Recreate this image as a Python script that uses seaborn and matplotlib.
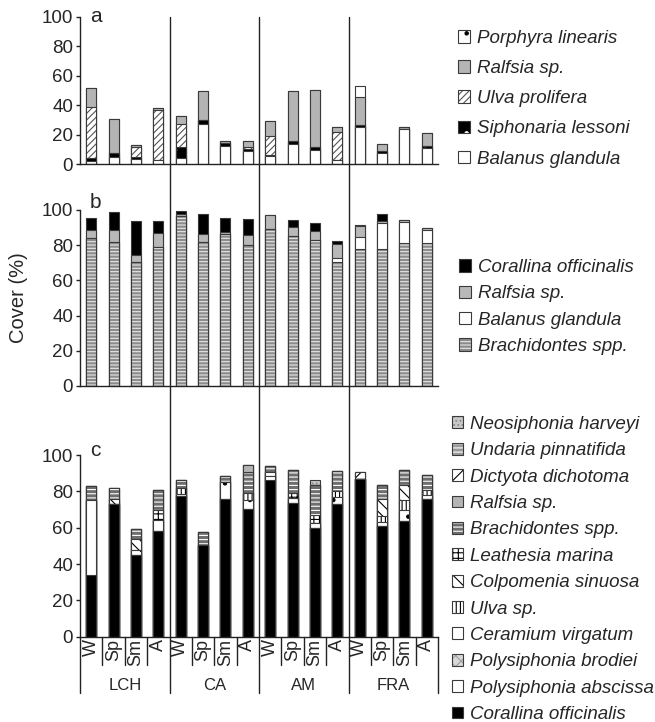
import numpy as np
import pandas as pd
import seaborn as sns
import matplotlib.pyplot as plt
from matplotlib.patches import Patch
from matplotlib.lines import Line2D
from matplotlib.transforms import blended_transform_factory

sites = ["LCH", "CA", "AM", "FRA"]
seasons = ["W", "Sp", "Sm", "A"]
bar_ids = [site + " " + season for site in sites for season in seasons]

# panel a, stacked bottom -> top
a_balanus = [2, 5, 3.5, 3, 4, 27, 12.5, 9, 5.5, 13.5, 9.5, 3, 25.5, 7.5, 24, 11]
a_siphonaria = [2, 2.5, 1.5, 0, 8, 3, 2, 1.5, 0.5, 2, 2, 0, 1, 1.5, 0, 1.5]
a_ulva = [34.5, 0, 7, 34, 15.5, 0, 0, 1.5, 13.5, 0, 0, 19, 0, 0, 0, 0]
a_ralfsia = [13.5, 23, 1, 1, 5, 19.5, 1, 3.5, 9.5, 34, 39, 3, 19, 5, 1.5, 8.5]
a_porphyra = [0, 0, 0, 0, 0, 0, 0, 0, 0, 0, 0, 0, 7.5, 0, 0, 0]

# panel b
b_brachidontes = [84, 82, 70.5, 79, 96.5, 82, 86.5, 80, 89, 85.5, 83, 70.5, 78, 78, 81, 81]
b_balanus = [0, 0, 0, 0, 0, 0, 0, 0, 0, 0, 0, 2.5, 6.5, 14.5, 12, 7.5]
b_ralfsia = [4.5, 6.5, 4, 8, 1, 4.5, 1, 6, 8, 5, 5, 7.5, 6.5, 1.5, 1.5, 1.5]
b_corallina = [7, 10.5, 19, 7, 2, 11.5, 8, 9, 0, 4, 4.5, 2, 0.5, 4, 0, 0]

# panel c
c_corallina = [34, 73, 45, 58, 77.5, 50.5, 76, 70.5, 86.5, 73.5, 60, 73, 87, 61, 63.5, 76]
c_pabscissa = [41, 0, 0, 0, 0, 0, 0, 0, 2, 0, 0, 0, 0, 0, 0, 0]
c_pbrodiei = [0, 0, 0, 0, 0, 0, 0, 0, 0, 0, 0, 0, 0, 0, 0, 0]
c_ceramium = [0, 0, 2.5, 6, 1, 0, 9, 4.5, 2, 3, 2.5, 4, 0, 2, 6.5, 2]
c_ulva = [0, 0, 0, 0, 3.5, 0, 0, 4, 0, 0, 0, 3, 0, 3.5, 5, 3]
c_colpomenia = [0, 3, 6.5, 0, 0, 0, 0, 0, 0, 0, 0, 0, 0, 9.5, 8.5, 0]
c_leathesia = [0, 0, 0, 6, 0, 0, 0, 0, 0, 2.5, 4.5, 0, 0, 0, 0, 0]
c_brachidontes = [8, 6, 5, 11, 4, 7, 3.5, 11.5, 3.5, 12.5, 16.5, 11, 0, 7.5, 8, 8]
c_ralfsia = [0, 0, 0, 0, 0, 0, 0, 4, 0, 0, 0, 0, 0, 0, 0, 0]
c_dictyota = [0, 0, 0, 0, 0, 0, 0, 0, 0, 0, 0, 0, 3.5, 0, 0, 0]
c_undaria = [0, 0, 0, 0, 0, 0, 0, 0, 0, 0, 0, 0, 0, 0, 0, 0]
c_neosiphonia = [0, 0, 0, 0, 0, 0, 0, 0, 0, 0, 2.5, 0, 0, 0, 0, 0]

OUTLINE = "#3a3a3a"
W, H = 655, 722

sns.set_theme(style="ticks")
plt.rcParams["font.family"] = ["Liberation Sans", "DejaVu Sans"]
plt.rcParams["hatch.linewidth"] = 0.8

# name, values, face, hatch, hatch colour
layers_a = [
    ("Balanus glandula", a_balanus, "white", None, "white"),
    ("Siphonaria lessoni", a_siphonaria, "black", ".", "white"),
    ("Ulva prolifera", a_ulva, "white", "/////", "#555555"),
    ("Ralfsia sp.", a_ralfsia, "#b4b4b4", None, "#b4b4b4"),
    ("Porphyra linearis", a_porphyra, "white", ".", "black"),
]
layers_b = [
    ("Brachidontes spp.", b_brachidontes, "#8c8c8c", "-----", "#e6e6e6"),
    ("Balanus glandula", b_balanus, "white", None, "white"),
    ("Ralfsia sp.", b_ralfsia, "#b8b8b8", None, "#b8b8b8"),
    ("Corallina officinalis", b_corallina, "black", None, "black"),
]
layers_c = [
    ("Corallina officinalis", c_corallina, "black", None, "black"),
    ("Polysiphonia abscissa", c_pabscissa, "white", None, "white"),
    ("Polysiphonia brodiei", c_pbrodiei, "#d8d8d8", "xxx", "#a0a0a0"),
    ("Ceramium virgatum", c_ceramium, "white", ".", "black"),
    ("Ulva sp.", c_ulva, "white", "||||", "black"),
    ("Colpomenia sinuosa", c_colpomenia, "white", "\\\\\\", "black"),
    ("Leathesia marina", c_leathesia, "white", "+++", "black"),
    ("Brachidontes spp.", c_brachidontes, "#6e6e6e", "----", "white"),
    ("Ralfsia sp.", c_ralfsia, "#b4b4b4", None, "#b4b4b4"),
    ("Dictyota dichotoma", c_dictyota, "white", "//", "black"),
    ("Undaria pinnatifida", c_undaria, "#9a9a9a", "----", "white"),
    ("Neosiphonia harveyi", c_neosiphonia, "#c8c8c8", "....", "#888888"),
]

fig = plt.figure(figsize=(W / 100, H / 100), dpi=100)


def px_axes(y0, y100):
    return fig.add_axes([80 / W, 1 - y0 / H, 358 / W, (y0 - y100) / H])


def draw_stack(ax, layers):
    # cumulative tops, drawn from the top layer down so each lower layer covers the one above
    tops = np.cumsum([np.asarray(v, dtype=float) for _, v, _, _, _ in layers], axis=0)
    for k in range(len(layers) - 1, -1, -1):
        name, values, face, hatch, hatch_color = layers[k]
        df = pd.DataFrame({"bar": bar_ids, "cover": tops[k]})
        sns.barplot(data=df, x="bar", y="cover", order=bar_ids, ax=ax,
                    color=face, saturation=1, width=0.45, errorbar=None,
                    hatch=hatch, edgecolor=hatch_color, linewidth=0)
        sns.barplot(data=df, x="bar", y="cover", order=bar_ids, ax=ax,
                    color="black", saturation=1, fill=False, width=0.45,
                    errorbar=None, edgecolor=OUTLINE, linewidth=0.8)
    ax.set_xlim(-0.5, 15.5)
    ax.set_ylim(0, 100)
    ax.set_yticks(range(0, 101, 20))
    ax.set_xticks([])
    ax.set_xlabel("")
    ax.set_ylabel("")
    sns.despine(ax=ax)
    for side in ["left", "bottom"]:
        ax.spines[side].set_color("#222222")
        ax.spines[side].set_linewidth(1)
    ax.tick_params(axis="y", length=3, width=1, color="#222222", labelsize=13.5, pad=2)


def add_legend(layers, x_px, top_px, spacing, size):
    handles = []
    labels = []
    for name, values, face, hatch, hatch_color in reversed(layers):
        swatch = Patch(facecolor=face, hatch=hatch, edgecolor=hatch_color, linewidth=0)
        frame = Patch(facecolor="none", edgecolor=OUTLINE, linewidth=0.8)
        handles.append((swatch, frame))
        labels.append(name)
    fig.legend(handles, labels, loc="upper left",
               bbox_to_anchor=(x_px / W, 1 - top_px / H), bbox_transform=fig.transFigure,
               frameon=False, prop={"style": "italic", "size": 13.5},
               labelspacing=spacing, handlelength=size, handleheight=size,
               handletextpad=0.35, borderpad=0, borderaxespad=0)


ax_a = px_axes(164.3, 16.7)
ax_b = px_axes(386, 210)
ax_c = px_axes(636.7, 455)

draw_stack(ax_a, layers_a)
draw_stack(ax_b, layers_b)
draw_stack(ax_c, layers_c)

add_legend(layers_a, 458, 30, 0.7, 0.64)
add_legend(layers_b, 459, 259, 0.5, 0.64)
add_legend(layers_c, 452, 416, 0.5, 0.6)

ax_b.set_ylabel("Cover (%)", fontsize=14.5)
ax_b.yaxis.set_label_coords(-52 / 358, 0.5)

for ax, letter, y_px in [(ax_a, "a", 16), (ax_b, "b", 203), (ax_c, "c", 451)]:
    fig.text(95.5 / W, 1 - y_px / H, letter, fontsize=15, ha="center", va="center")

# site dividers and season separators under panel c
tr = blended_transform_factory(ax_c.transData, fig.transFigure)
for x in [3.5, 7.5, 11.5]:
    fig.add_artist(Line2D([x, x], [1 - 17 / H, 1 - 693 / H], transform=tr,
                          color="#222222", lw=1))
for x in [-0.5, 15.5]:
    fig.add_artist(Line2D([x, x], [1 - 636.7 / H, 1 - 693 / H], transform=tr,
                          color="#222222", lw=1))
for i in range(15):
    if (i + 1) % 4:
        fig.add_artist(Line2D([i + 0.5, i + 0.5], [1 - 636.7 / H, 1 - 665 / H],
                              transform=tr, color="#222222", lw=1))

for i, bar in enumerate(bar_ids):
    fig.text(i, 1 - 639 / H, bar.split(" ")[1], transform=tr, rotation=90,
             ha="center", va="top", fontsize=13)
for j, site in enumerate(sites):
    fig.text(j * 4 + 1.5, 1 - 685 / H, site, transform=tr, ha="center",
             va="center", fontsize=12)

fig.savefig("out.png", dpi=100)
